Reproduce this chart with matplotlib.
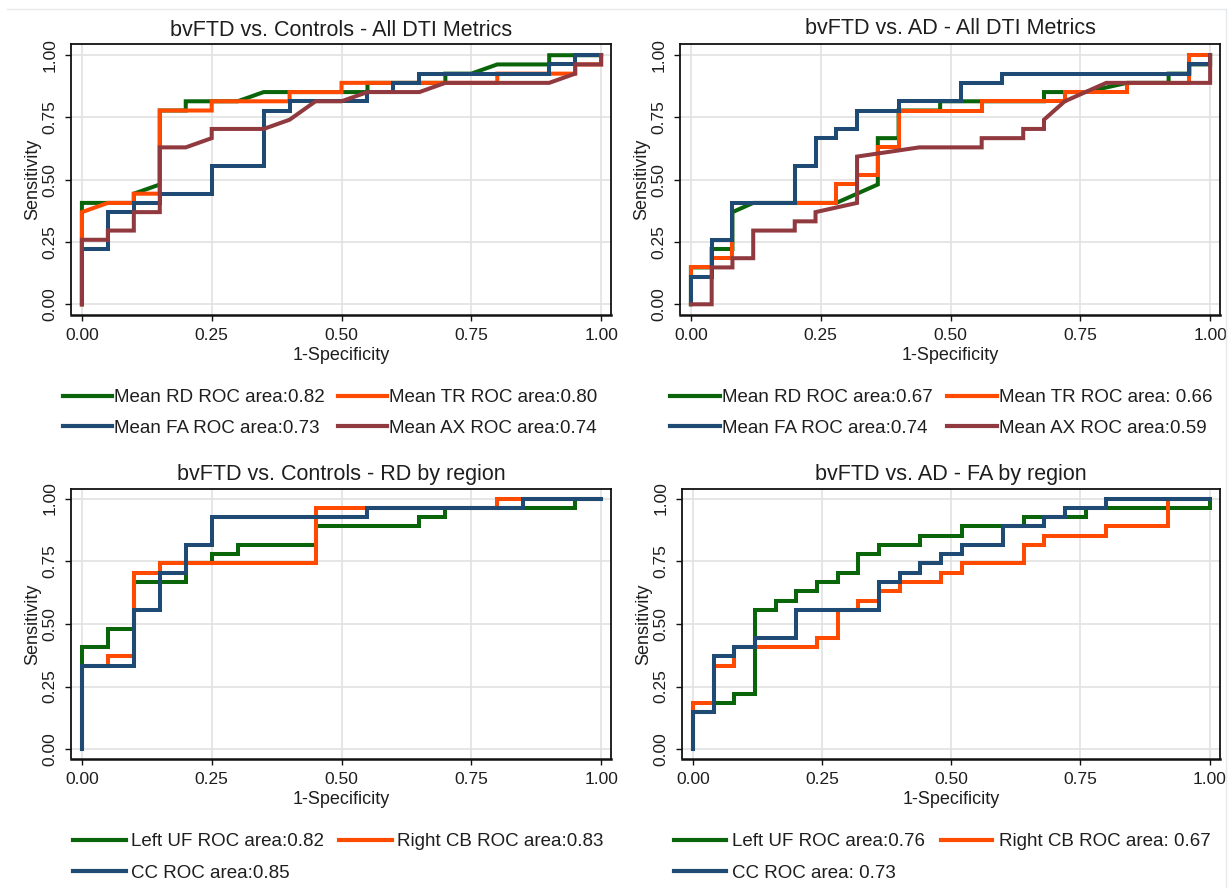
import matplotlib
matplotlib.use("Agg")
import matplotlib.pyplot as plt
from matplotlib.lines import Line2D

plt.rcParams['font.family'] = ['Liberation Sans', 'DejaVu Sans']

# colours (Stata-like)
GREEN = '#0a640a'
ORANGE = '#ff4a00'
BLUE = '#1f4a73'
MAROON = '#903a40'

# ---------------- data ----------------
# panel 1: bvFTD vs. Controls - All DTI Metrics
c_rd_fpr = [0, 0, 0.10, 0.10, 0.15, 0.15, 0.20, 0.20, 0.30, 0.35, 0.55, 0.55, 0.70, 0.70, 0.75, 0.80, 0.90, 0.90, 1.00]
c_rd_tpr = [0, 0.407, 0.407, 0.444, 0.481, 0.778, 0.778, 0.815, 0.815, 0.852, 0.852, 0.889, 0.889, 0.926, 0.926, 0.963, 0.963, 1.0, 1.0]
c_tr_fpr = [0, 0, 0.05, 0.10, 0.10, 0.15, 0.15, 0.25, 0.25, 0.40, 0.40, 0.50, 0.50, 0.80, 0.80, 0.95, 0.95, 1.00, 1.00]
c_tr_tpr = [0, 0.370, 0.407, 0.407, 0.444, 0.444, 0.778, 0.778, 0.815, 0.815, 0.852, 0.852, 0.889, 0.889, 0.926, 0.926, 0.963, 0.963, 1.0]
c_fa_fpr = [0, 0, 0.05, 0.05, 0.10, 0.10, 0.15, 0.15, 0.25, 0.25, 0.35, 0.35, 0.40, 0.40, 0.55, 0.55, 0.60, 0.60, 0.65, 0.65, 0.90, 0.90, 0.95, 0.95, 1.00]
c_fa_tpr = [0, 0.222, 0.222, 0.370, 0.370, 0.407, 0.407, 0.444, 0.444, 0.556, 0.556, 0.778, 0.778, 0.815, 0.815, 0.852, 0.852, 0.889, 0.889, 0.926, 0.926, 0.963, 0.963, 1.0, 1.0]
c_ax_fpr = [0, 0, 0.05, 0.05, 0.10, 0.10, 0.15, 0.15, 0.20, 0.25, 0.25, 0.35, 0.40, 0.45, 0.50, 0.55, 0.65, 0.70, 0.90, 0.95, 0.95, 1.00, 1.00]
c_ax_tpr = [0, 0.259, 0.259, 0.296, 0.296, 0.370, 0.370, 0.630, 0.630, 0.667, 0.704, 0.704, 0.741, 0.815, 0.815, 0.852, 0.852, 0.889, 0.889, 0.926, 0.963, 0.963, 1.0]

# panel 2: bvFTD vs. AD - All DTI Metrics
a_rd_fpr = [0, 0, 0.04, 0.04, 0.08, 0.08, 0.12, 0.28, 0.36, 0.36, 0.40, 0.40, 0.48, 0.48, 0.68, 0.68, 0.76, 0.84, 0.92, 0.92, 0.96, 0.96, 1.00, 1.00]
a_rd_tpr = [0, 0.148, 0.148, 0.222, 0.222, 0.370, 0.407, 0.407, 0.481, 0.667, 0.667, 0.778, 0.778, 0.815, 0.815, 0.852, 0.852, 0.889, 0.889, 0.926, 0.926, 0.963, 0.963, 1.0]
a_tr_fpr = [0, 0, 0.04, 0.04, 0.08, 0.08, 0.28, 0.28, 0.32, 0.32, 0.36, 0.36, 0.40, 0.40, 0.56, 0.56, 0.72, 0.72, 0.84, 0.84, 0.96, 0.96, 1.00]
a_tr_tpr = [0, 0.148, 0.148, 0.185, 0.185, 0.407, 0.407, 0.481, 0.481, 0.519, 0.519, 0.630, 0.630, 0.778, 0.778, 0.815, 0.815, 0.852, 0.852, 0.889, 0.889, 1.0, 1.0]
a_fa_fpr = [0, 0, 0.04, 0.04, 0.08, 0.08, 0.20, 0.20, 0.24, 0.24, 0.28, 0.28, 0.32, 0.32, 0.40, 0.40, 0.52, 0.52, 0.60, 0.60, 0.96, 0.96, 1.00, 1.00]
a_fa_tpr = [0, 0.111, 0.111, 0.259, 0.259, 0.407, 0.407, 0.556, 0.556, 0.667, 0.667, 0.704, 0.704, 0.778, 0.778, 0.815, 0.815, 0.889, 0.889, 0.926, 0.926, 0.963, 0.963, 1.0]
a_ax_fpr = [0, 0.04, 0.04, 0.08, 0.08, 0.12, 0.12, 0.20, 0.20, 0.24, 0.24, 0.32, 0.32, 0.44, 0.56, 0.56, 0.64, 0.64, 0.68, 0.68, 0.72, 0.80, 1.00, 1.00]
a_ax_tpr = [0, 0, 0.148, 0.148, 0.185, 0.185, 0.296, 0.296, 0.333, 0.333, 0.370, 0.407, 0.593, 0.630, 0.630, 0.667, 0.667, 0.704, 0.704, 0.741, 0.815, 0.889, 0.889, 1.0]

# panel 3: bvFTD vs. Controls - RD by region
c_uf_fpr = [0, 0, 0.05, 0.05, 0.10, 0.10, 0.20, 0.20, 0.25, 0.25, 0.30, 0.30, 0.45, 0.45, 0.65, 0.65, 0.70, 0.70, 0.95, 0.95, 1.00]
c_uf_tpr = [0, 0.407, 0.407, 0.481, 0.481, 0.667, 0.667, 0.741, 0.741, 0.778, 0.778, 0.815, 0.815, 0.889, 0.889, 0.926, 0.926, 0.963, 0.963, 1.0, 1.0]
c_cb_fpr = [0, 0, 0.05, 0.05, 0.10, 0.10, 0.15, 0.15, 0.45, 0.45, 0.80, 0.80, 1.00]
c_cb_tpr = [0, 0.333, 0.333, 0.370, 0.370, 0.704, 0.704, 0.741, 0.741, 0.963, 0.963, 1.0, 1.0]
c_cc_fpr = [0, 0, 0.10, 0.10, 0.15, 0.15, 0.20, 0.20, 0.25, 0.25, 0.55, 0.55, 0.85, 0.85, 1.00]
c_cc_tpr = [0, 0.333, 0.333, 0.556, 0.556, 0.704, 0.704, 0.815, 0.815, 0.926, 0.926, 0.963, 0.963, 1.0, 1.0]

# panel 4: bvFTD vs. AD - FA by region
a_uf_fpr = [0, 0, 0.04, 0.04, 0.08, 0.08, 0.12, 0.12, 0.16, 0.16, 0.20, 0.20, 0.24, 0.24, 0.28, 0.28, 0.32, 0.32, 0.36, 0.36, 0.44, 0.44, 0.52, 0.52, 0.64, 0.64, 0.76, 0.76, 1.00, 1.00]
a_uf_tpr = [0, 0.148, 0.148, 0.185, 0.185, 0.222, 0.222, 0.556, 0.556, 0.593, 0.593, 0.630, 0.630, 0.667, 0.667, 0.704, 0.704, 0.778, 0.778, 0.815, 0.815, 0.852, 0.852, 0.889, 0.889, 0.926, 0.926, 0.963, 0.963, 1.0]
a_cb_fpr = [0, 0, 0.04, 0.04, 0.08, 0.08, 0.24, 0.24, 0.28, 0.28, 0.32, 0.32, 0.36, 0.36, 0.40, 0.40, 0.48, 0.48, 0.52, 0.52, 0.64, 0.64, 0.68, 0.68, 0.80, 0.80, 0.92, 0.92, 1.00]
a_cb_tpr = [0, 0.185, 0.185, 0.333, 0.333, 0.407, 0.407, 0.444, 0.444, 0.556, 0.556, 0.593, 0.593, 0.630, 0.630, 0.667, 0.667, 0.704, 0.704, 0.741, 0.741, 0.815, 0.815, 0.852, 0.852, 0.889, 0.889, 1.0, 1.0]
a_cc_fpr = [0, 0, 0.04, 0.04, 0.08, 0.08, 0.12, 0.12, 0.20, 0.20, 0.36, 0.36, 0.40, 0.40, 0.44, 0.44, 0.48, 0.48, 0.52, 0.52, 0.60, 0.60, 0.68, 0.68, 0.72, 0.72, 0.80, 0.80, 1.00]
a_cc_tpr = [0, 0.148, 0.148, 0.370, 0.370, 0.407, 0.407, 0.444, 0.444, 0.556, 0.556, 0.667, 0.667, 0.704, 0.704, 0.741, 0.741, 0.778, 0.778, 0.815, 0.815, 0.889, 0.889, 0.926, 0.926, 0.963, 0.963, 1.0, 1.0]

titles = ["bvFTD vs. Controls - All DTI Metrics", "bvFTD vs. AD - All DTI Metrics",
          "bvFTD vs. Controls - RD by region", "bvFTD vs. AD - FA by region"]
ticks = [0, 0.25, 0.5, 0.75, 1.0]
tick_labels = ["0.00", "0.25", "0.50", "0.75", "1.00"]

# each panel: list of (fpr, tpr, colour, label) in draw order
panels = [
    [(c_rd_fpr, c_rd_tpr, GREEN, "Mean RD ROC area:0.82"),
     (c_tr_fpr, c_tr_tpr, ORANGE, "Mean TR ROC area:0.80"),
     (c_fa_fpr, c_fa_tpr, BLUE, "Mean FA ROC area:0.73"),
     (c_ax_fpr, c_ax_tpr, MAROON, "Mean AX ROC area:0.74")],
    [(a_rd_fpr, a_rd_tpr, GREEN, "Mean RD ROC area:0.67"),
     (a_tr_fpr, a_tr_tpr, ORANGE, "Mean TR ROC area: 0.66"),
     (a_fa_fpr, a_fa_tpr, BLUE, "Mean FA ROC area:0.74"),
     (a_ax_fpr, a_ax_tpr, MAROON, "Mean AX ROC area:0.59")],
    [(c_uf_fpr, c_uf_tpr, GREEN, "Left UF ROC area:0.82"),
     (c_cb_fpr, c_cb_tpr, ORANGE, "Right CB ROC area:0.83"),
     (c_cc_fpr, c_cc_tpr, BLUE, "CC ROC area:0.85")],
    [(a_uf_fpr, a_uf_tpr, GREEN, "Left UF ROC area:0.76"),
     (a_cb_fpr, a_cb_tpr, ORANGE, "Right CB ROC area: 0.67"),
     (a_cc_fpr, a_cc_tpr, BLUE, "CC ROC area: 0.73")],
]
# legend order so that ncol=2 (column-major) reads row by row
legend_orders = [[0, 2, 1, 3], [0, 2, 1, 3], [0, 2, 1], [0, 2, 1]]

W, H = 1229, 888
fig = plt.figure(figsize=(W / 100, H / 100), dpi=100)

# axes frames in pixels: left, right, top, bottom
frames = [(71, 611, 44, 314.5), (680, 1220, 44, 314.5),
          (71, 611, 489.5, 758.5), (682, 1219.5, 489.5, 758.5)]
ylims = [(-0.041, 1.045), (-0.041, 1.045), (-0.037, 1.036), (-0.037, 1.036)]
title_pads = [6, 7, 7, 7]
# legend: handle-start x, row-1 centre y, handlelength, textpad, colspacing, rowspacing
leg_pos = [(63, 400, 2.6, 0.1, 0.75, 0.71), (670, 400, 2.65, 0.12, 0.77, 0.71),
           (73, 844, 2.8, 0.3, 0.8, 0.78), (674, 844, 2.75, 0.35, 0.83, 0.78)]

TXT = '#1e1e1e'
for i, (l, r, t, b) in enumerate(frames):
    ax = fig.add_axes([l / W, 1 - b / H, (r - l) / W, (b - t) / H])
    lines = []
    for fpr, tpr, col, lab in panels[i]:
        ln, = ax.plot(fpr, tpr, color=col, lw=2.9, label=lab, solid_joinstyle='miter')
        lines.append(ln)
    ax.set_xlim(-0.021, 1.019)
    ax.set_ylim(*ylims[i])
    ax.set_xticks(ticks)
    ax.set_xticklabels(tick_labels)
    ax.set_yticks(ticks)
    ax.set_yticklabels(tick_labels, rotation=90, va='center')
    ax.grid(True, color='#e2e2e2', lw=1.2)
    ax.set_axisbelow(True)
    for s in ax.spines.values():
        s.set_color('#111111')
        s.set_linewidth(1.3)
    ax.spines['bottom'].set_linewidth(1.8)
    ax.tick_params(direction='out', length=4.3, width=1.0, color='#111111',
                   labelsize=12.5, labelcolor=TXT, pad=5.5)
    ax.set_title(titles[i], fontsize=15.5, color=TXT, pad=title_pads[i])
    ax.set_xlabel("1-Specificity", fontsize=13, color=TXT, labelpad=3)
    ax.set_ylabel("Sensitivity", fontsize=13, color=TXT, labelpad=1)

    hx, ry, hl, tp, cs, ls = leg_pos[i]
    order = legend_orders[i]
    leg = ax.legend([lines[k] for k in order], [panels[i][k][3] for k in order],
                    ncol=2, loc='upper left', frameon=False, fontsize=13.5,
                    handlelength=hl, handletextpad=tp, columnspacing=cs,
                    labelspacing=ls, borderpad=0, borderaxespad=0,
                    bbox_to_anchor=(hx / W, 1 - (ry - 11) / H),
                    bbox_transform=fig.transFigure)
    for txt in leg.get_texts():
        txt.set_color(TXT)
    for h in leg.legend_handles:
        h.set_linewidth(3.0)

# faint outer border of the original graph window
fig.add_artist(Line2D([7 / W, 1226 / W], [1 - 9 / H, 1 - 9 / H], color='#e6eaec', lw=1))
fig.add_artist(Line2D([1226 / W, 1226 / W], [1 - 9 / H, 0], color='#e6eaec', lw=1))

fig.savefig("out.png", dpi=100, facecolor='white')
